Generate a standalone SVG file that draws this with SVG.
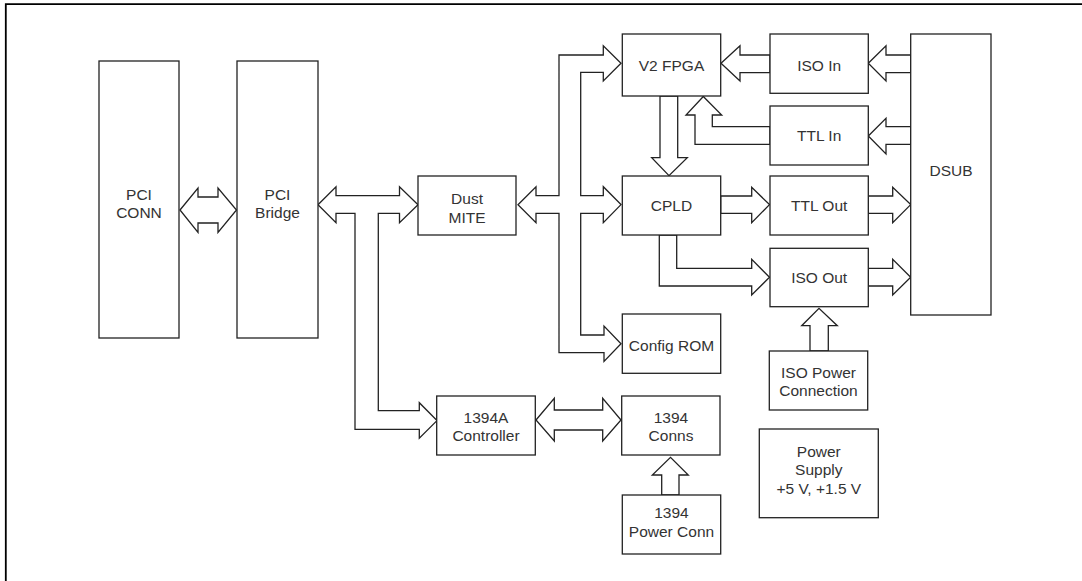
<svg xmlns="http://www.w3.org/2000/svg" width="1082" height="581" viewBox="0 0 1082 581">
<style>
.box{fill:#fff;stroke:#222;stroke-width:1.3}
.arr{fill:#fff;stroke:#222;stroke-width:1.3;stroke-linejoin:miter}
.t{font-family:"Liberation Sans",Arial,sans-serif;font-size:15.5px;fill:#333;text-anchor:middle}
.frame{fill:none;stroke:#000;stroke-width:1.8}
</style>
<rect width="1082" height="581" fill="#fff"/>
<path class="frame" d="M5.8,581 V4.2 H1082"/>

<g id="connectors">
<polygon class="arr" points="180,210 198,188 198,197 218,197 218,188 236.5,210 218,232.5 218,223 198,223 198,232.5"/>
<polygon class="arr" points="318,204.7 336,186.7 336,195.7 399.5,195.7 399.5,186.7 418,204.7 399.5,222.7 399.5,213.3 378.3,213.3 378.3,410.7 419.3,410.7 419.3,402.7 437,420.6 419.3,438.3 419.3,429.3 355,429.3 355,213.3 336,213.3 336,222.7"/>
<polygon class="arr" points="518,204.7 536,186.7 536,195.7 559,195.7 559,55 603.3,55 603.3,45.7 621,63.3 603.3,81 603.3,72.3 580.7,72.3 580.7,195.7 603.3,195.7 603.3,186.7 621,204.6 603.3,222.7 603.3,213.3 580.7,213.3 580.7,335 604,335 604,326 621,343.7 604,361.5 604,352.7 559,352.7 559,213.3 536,213.3 536,222.7"/>
<polygon class="arr" points="721,63.3 740,45.7 740,55 770,55 770,72.7 740,72.7 740,81"/>
<polygon class="arr" points="868.3,63.3 886,45.7 886,55 910.7,55 910.7,72.7 886,72.7 886,81"/>
<polygon class="arr" points="868.3,136 886,118.3 886,126.7 910.7,126.7 910.7,144.3 886,144.3 886,154"/>
<polygon class="arr" points="770,126.7 712.3,126.7 712.3,115 721.7,115 703.3,96.5 686,115 695,115 695,144.3 770,144.3"/>
<polygon class="arr" points="660,96 660,157.7 651.7,157.7 669,175.7 687.3,157.7 677.7,157.7 677.7,96"/>
<polygon class="arr" points="720.7,196 751.7,196 751.7,187.3 769.5,204.6 751.7,222.7 751.7,213.3 720.7,213.3"/>
<polygon class="arr" points="868.3,196 892.7,196 892.7,187.3 910.7,204.6 892.7,222.7 892.7,213.3 868.3,213.3"/>
<polygon class="arr" points="676.7,235 676.7,268.3 751.7,268.3 751.7,259.3 769.5,277.3 751.7,295 751.7,286 659.3,286 659.3,235"/>
<polygon class="arr" points="868.3,268.3 892.7,268.3 892.7,259.3 910.7,277.3 892.7,295 892.7,286 868.3,286"/>
<polygon class="arr" points="810,351 810,325.7 801.7,325.7 819,308.3 837.3,325.7 828.3,325.7 828.3,351"/>
<polygon class="arr" points="536,420 554.3,398.3 554.3,410 602.7,410 602.7,398.3 621,420 602.7,441 602.7,430 554.3,430 554.3,441"/>
<polygon class="arr" points="661.7,495 661.7,475 652.3,475 670.5,457.3 688.3,475 679,475 679,495"/>
</g>

<g id="pci-conn"><rect class="box" x="99" y="61" width="80" height="277"/><text class="t" x="139" y="200">PCI</text><text class="t" x="139" y="218.3">CONN</text></g>
<g id="pci-bridge"><rect class="box" x="237" y="61" width="81" height="277"/><text class="t" x="277.5" y="200">PCI</text><text class="t" x="277.5" y="218.3">Bridge</text></g>
<g id="dust-mite"><rect class="box" x="418" y="176" width="98" height="59"/><text class="t" x="467" y="204">Dust</text><text class="t" x="467" y="222.5">MITE</text></g>
<g id="v2-fpga"><rect class="box" x="622.3" y="34" width="98.4" height="62"/><text class="t" x="671.5" y="71">V2 FPGA</text></g>
<g id="cpld"><rect class="box" x="622.3" y="176" width="98.4" height="59"/><text class="t" x="671.5" y="210.7">CPLD</text></g>
<g id="config-rom"><rect class="box" x="622.3" y="314" width="98.4" height="59.3"/><text class="t" x="671.5" y="350.7">Config ROM</text></g>
<g id="iso-in"><rect class="box" x="770" y="34" width="98.3" height="59.3"/><text class="t" x="819.2" y="71">ISO In</text></g>
<g id="ttl-in"><rect class="box" x="770" y="106" width="98.3" height="59"/><text class="t" x="819.2" y="141">TTL In</text></g>
<g id="ttl-out"><rect class="box" x="770" y="176" width="98.3" height="59"/><text class="t" x="819.2" y="210.7">TTL Out</text></g>
<g id="iso-out"><rect class="box" x="770" y="248.3" width="98.3" height="58.4"/><text class="t" x="819.2" y="282.7">ISO Out</text></g>
<g id="iso-power"><rect class="box" x="769.3" y="351" width="98.4" height="59"/><text class="t" x="818.5" y="378.3">ISO Power</text><text class="t" x="818.5" y="395.7">Connection</text></g>
<g id="dsub"><rect class="box" x="910.7" y="34" width="80.3" height="281"/><text class="t" x="951" y="176">DSUB</text></g>
<g id="ctrl-1394a"><rect class="box" x="436.7" y="396" width="98.6" height="59"/><text class="t" x="486" y="422.7">1394A</text><text class="t" x="486" y="440.7">Controller</text></g>
<g id="conns-1394"><rect class="box" x="621.7" y="396" width="98.3" height="59"/><text class="t" x="671" y="422.7">1394</text><text class="t" x="671" y="440.7">Conns</text></g>
<g id="power-conn-1394"><rect class="box" x="622.3" y="495" width="98.4" height="59"/><text class="t" x="671.5" y="518.3">1394</text><text class="t" x="671.5" y="536.7">Power Conn</text></g>
<g id="power-supply"><rect class="box" x="759.3" y="429" width="119" height="88.7"/><text class="t" x="818.8" y="456.7">Power</text><text class="t" x="818.8" y="475.3">Supply</text><text class="t" x="818.8" y="494.3">+5 V, +1.5 V</text></g>
</svg>
